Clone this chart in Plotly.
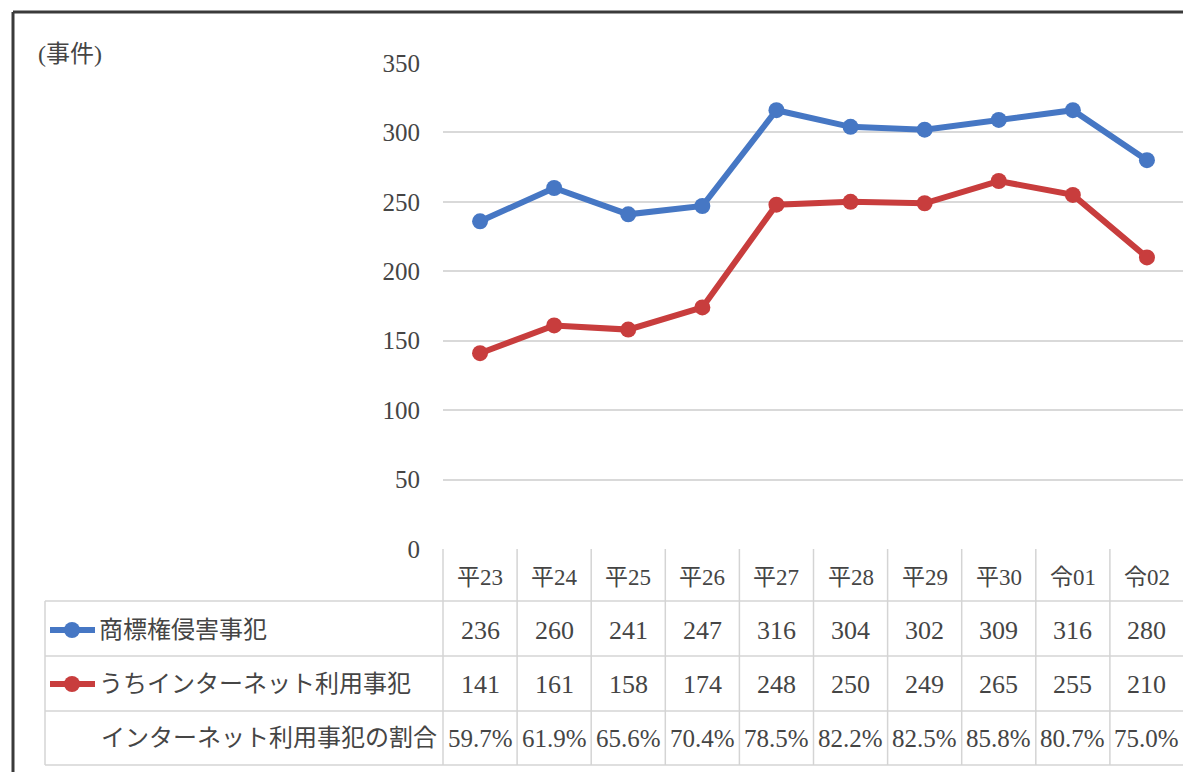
import plotly.graph_objects as go

categories = ["平23", "平24", "平25", "平26", "平27", "平28", "平29", "平30", "令01", "令02"]
series_names = ["商標権侵害事犯", "うちインターネット利用事犯"]
trademark = [236, 260, 241, 247, 316, 304, 302, 309, 316, 280]
internet = [141, 161, 158, 174, 248, 250, 249, 265, 255, 210]
ratio_label = "インターネット利用事犯の割合"
ratio = ["59.7%", "61.9%", "65.6%", "70.4%", "78.5%", "82.2%", "82.5%", "85.8%", "80.7%", "75.0%"]
y_ticks = [0, 50, 100, 150, 200, 250, 300, 350]
unit_label = "(事件)"

BLUE = "#4677c4"
RED = "#c83d3d"
TEXT = "#454545"
GRID = "#d9d9d9"
FONT = "Liberation Serif, Noto Sans CJK JP, serif"

OFF = 8  # page body margin
W, H = 1191 - OFF, 772 - OFF
# target coordinates in page pixels
L, R = 443, 1184
T, B = 63, 549


def px(x):
    return (x - L) / (R - L)


def py(y):
    return (B - y) / (B - T)


fig = go.Figure()
fig.add_trace(go.Scatter(x=categories, y=trademark, mode="lines+markers", name=series_names[0],
                         line=dict(color=BLUE, width=6), marker=dict(size=16, color=BLUE),
                         cliponaxis=False))
fig.add_trace(go.Scatter(x=categories, y=internet, mode="lines+markers", name=series_names[1],
                         line=dict(color=RED, width=6), marker=dict(size=16, color=RED),
                         cliponaxis=False))

shapes = []
LC = "#d4d4d4"
n = len(categories)
colw = (R - L) / n
for yy in [601, 656, 711, 765]:
    shapes.append(dict(type="line", xref="paper", yref="paper", x0=px(45), x1=px(R), y0=py(yy), y1=py(yy),
                       line=dict(color=LC, width=1.5)))
shapes.append(dict(type="line", xref="paper", yref="paper", x0=px(45), x1=px(45), y0=py(601), y1=py(765),
                   line=dict(color=LC, width=1.5)))
for k in range(n + 1):
    xx = L + k * colw
    shapes.append(dict(type="line", xref="paper", yref="paper", x0=px(xx), x1=px(xx), y0=py(549), y1=py(765),
                       line=dict(color=LC, width=1.5)))
# outer frame
shapes.append(dict(type="line", xref="paper", yref="paper", x0=px(13), x1=px(1200), y0=py(12), y1=py(12),
                   line=dict(color="#3a3a3a", width=3)))
shapes.append(dict(type="line", xref="paper", yref="paper", x0=px(13), x1=px(13), y0=py(12), y1=py(780),
                   line=dict(color="#3a3a3a", width=3)))
# legend keys
for yy, col in [(630, BLUE), (684, RED)]:
    shapes.append(dict(type="line", xref="paper", yref="paper", x0=px(50), x1=px(95), y0=py(yy), y1=py(yy),
                       line=dict(color=col, width=6)))
    shapes.append(dict(type="circle", xref="paper", yref="paper", x0=px(64), x1=px(80), y0=py(yy - 8),
                       y1=py(yy + 8), fillcolor=col, line=dict(color=col, width=0)))

ann = []
NUM = 26
JP = 24


def a(x, y, text, size, xref="x", xanchor="center"):
    ann.append(dict(x=x, y=py(y), xref=xref, yref="paper", text=text, showarrow=False,
                    xanchor=xanchor, yanchor="middle",
                    font=dict(size=size, color=TEXT, family=FONT)))


for i, c in enumerate(categories):
    a(c, 577, c, 23)
    a(c, 630, str(trademark[i]), NUM)
    a(c, 684, str(internet[i]), NUM)
    a(c, 738, ratio[i], 25)
a(px(97), 630, series_names[0], JP, "paper", "left")
a(px(97), 684, series_names[1], JP, "paper", "left")
a(px(439), 738, ratio_label, JP, "paper", "right")
a(px(36), 54, unit_label, JP, "paper", "left")

fig.update_layout(
    width=W, height=H,
    margin=dict(l=L - OFF, r=W - (R - OFF), t=T - OFF, b=H - (B - OFF), pad=0),
    paper_bgcolor="white", plot_bgcolor="white",
    showlegend=False,
    shapes=shapes, annotations=ann,
    xaxis=dict(type="category", range=[-0.5, n - 0.5], showticklabels=False, showgrid=False,
               zeroline=False, showline=False, ticks=""),
    yaxis=dict(range=[0, 350], tickvals=y_ticks, showgrid=True, gridcolor=GRID, gridwidth=1.5,
               zeroline=False, showline=False, ticks="", ticklabelstandoff=22,
               tickfont=dict(size=25, color=TEXT, family=FONT)),
)

fig.write_html("out.html")
